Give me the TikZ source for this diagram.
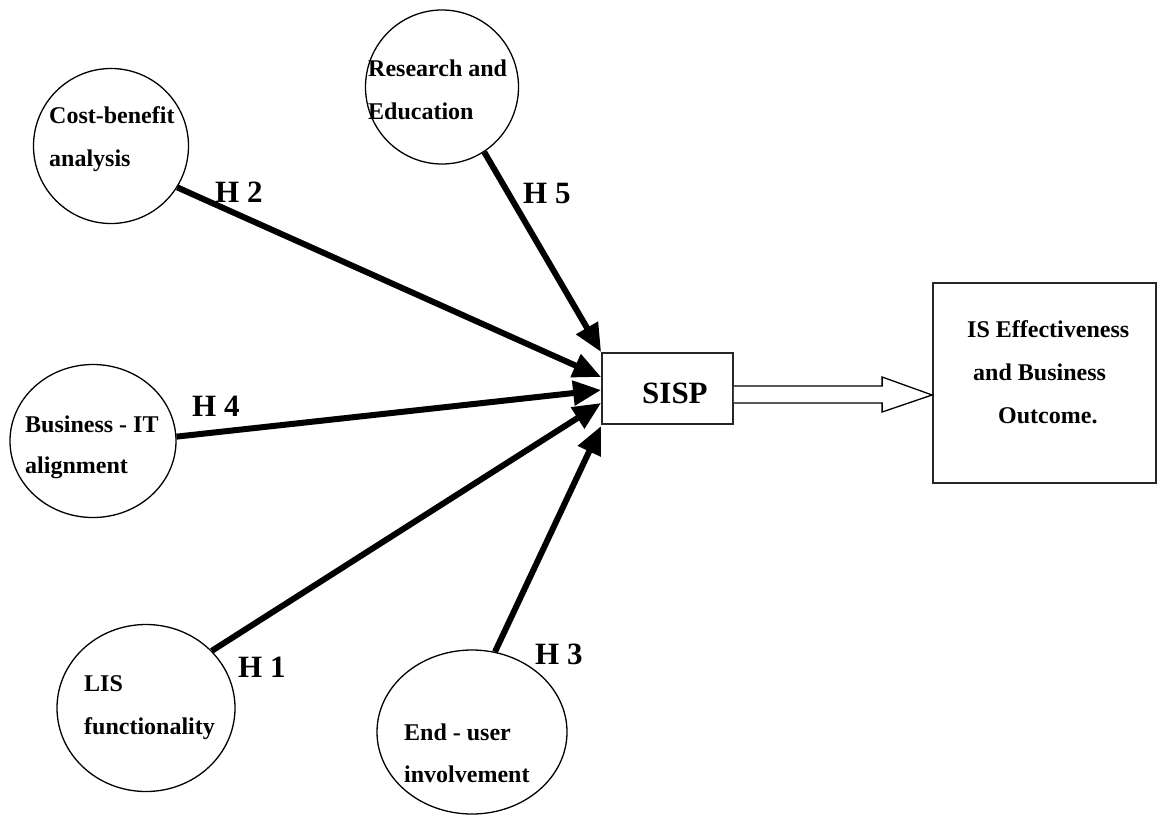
\documentclass[tikz,border=0pt]{standalone}
\usepackage{fontspec}
\setmainfont{Liberation Serif}
\usetikzlibrary{arrows.meta,calc,shapes.geometric}

\begin{document}
\begin{tikzpicture}[x=1pt,y=-1pt,
  bubble/.style={draw, ellipse, line width=1.3pt, inner sep=0pt},
  box/.style={draw, rectangle, line width=1.8pt, draw=black!85, inner sep=0pt},
  txt/.style={anchor=base west, inner sep=0pt, font=\fontsize{24}{24}\selectfont\bfseries},
  hyp/.style={anchor=base west, inner sep=0pt, font=\fontsize{31}{31}\selectfont\bfseries},
  link/.style={line width=6pt, -{Triangle[length=28pt,width=24pt]}},
  arrowbody/.style={draw, line width=1.3pt, fill=white, line join=miter}]
\useasboundingbox (0,0) rectangle (1158,814);

% constructs
\node[bubble, minimum width=155, minimum height=155] (cb) at (111,146) {};
\node[bubble, minimum width=153, minimum height=154] (re) at (442,87) {};
\node[bubble, minimum width=166, minimum height=153] (bi) at (93,441) {};
\node[bubble, minimum width=178, minimum height=167] (lis) at (146,708) {};
\node[bubble, minimum width=190, minimum height=164] (eu) at (472,732) {};

% central construct and outcome
\node[box, minimum width=131, minimum height=71] (sisp) at (667.5,388.5) {};
\node[box, minimum width=223, minimum height=200] (out) at (1044.5,383) {};

% texts in the circles
\node[txt] (cb1) at (49,123) {Cost-benefit};
\node[txt] (cb2) at (49,166) {analysis};
\node[txt] (re1) at (368,76) {Research and};
\node[txt] (re2) at (368,119) {Education};
\node[txt] (bi1) at (25,432) {Business - IT};
\node[txt] (bi2) at (25,473) {alignment};
\node[txt] (lis1) at (84,691) {LIS};
\node[txt] (lis2) at (84,734) {functionality};
\node[txt] (eu1) at (404,740) {End - user};
\node[txt] (eu2) at (404,782) {involvement};

% texts in the boxes
\node[hyp] (sisptext) at (642,403) {SISP};
\node[txt] (out1) at (967,337) {IS Effectiveness};
\node[txt] (out2) at (973,380) {and Business};
\node[txt] (out3) at (998,423) {Outcome.};

% hypotheses
\draw[link] (re.-57) -- ($(sisp.west)+(0,-36.5)$);
\draw[link] (cb.-32) -- ($(sisp.west)+(0,-11.5)$);
\draw[link] (bi.3) -- ($(sisp.west)+(0,1.5)$);
\draw[link] (lis.41) -- ($(sisp.west)+(0,14.5)$);
\draw[link] (eu.74) -- ($(sisp.west)+(0,37.5)$);

\node[hyp] (h2) at (215,202) {H 2};
\node[hyp] (h5) at (523,203) {H 5};
\node[hyp] (h4) at (192,416) {H 4};
\node[hyp] (h1) at (238,677) {H 1};
\node[hyp] (h3) at (535,664) {H 3};

% hollow block arrow to the outcome
\draw[arrowbody] ($(sisp.east)+(0,-2.5)$) -- ($(out.west)+(-50,3)$)
  -- ($(out.west)+(-50,-6)$) -- ($(out.west)+(0,12)$)
  -- ($(out.west)+(-50,29)$) -- ($(out.west)+(-50,20)$)
  -- ($(sisp.east)+(0,14.5)$);
\end{tikzpicture}
\end{document}
